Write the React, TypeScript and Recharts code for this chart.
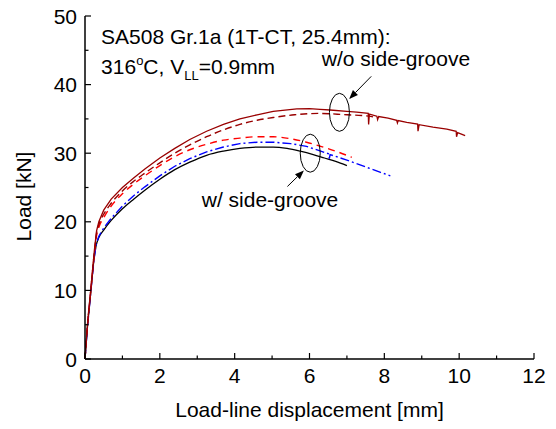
import React from "react";
import { LineChart, Line, XAxis, YAxis, ReferenceDot, ReferenceLine } from "recharts";

// load-line displacement [mm] vs load [kN]
const woSgA: [number, number][] = [
  [0, 0], [0.06, 4.6], [0.15, 9.8], [0.25, 15.8], [0.31, 18.7], [0.37, 20.0], [0.5, 21.7],
  [0.7, 23.3], [1.0, 25.0], [1.3, 26.4], [1.6, 27.7], [2.0, 29.3], [2.4, 30.7], [2.8, 32.0],
  [3.25, 33.2], [3.7, 34.2], [4.14, 35.0], [4.6, 35.6], [5.03, 36.1], [5.66, 36.45], [6.0, 36.5],
  [6.28, 36.4], [6.55, 36.3], [7.0, 36.1], [7.26, 36.0], [7.57, 35.8], [7.58, 34.2], [7.6, 35.7],
  [7.8, 35.4], [7.82, 34.9], [7.85, 35.35], [8.1, 35.1], [8.33, 34.8], [8.35, 34.4], [8.37, 34.75],
  [8.6, 34.5], [8.89, 34.25], [8.9, 33.2], [8.93, 34.15], [9.3, 33.8], [9.67, 33.5], [9.92, 33.2],
  [9.93, 32.4], [9.96, 33.0], [10.16, 32.55],
];
const woSgB: [number, number][] = [
  [0, 0], [0.06, 4.6], [0.15, 9.8], [0.25, 15.6], [0.31, 18.4], [0.37, 19.6], [0.5, 21.1],
  [0.7, 22.7], [1.0, 24.5], [1.3, 25.9], [1.6, 27.1], [2.0, 28.6], [2.4, 30.0], [2.8, 31.2],
  [3.25, 32.4], [3.7, 33.4], [4.14, 34.2], [4.6, 34.8], [5.03, 35.2], [5.6, 35.6], [6.28, 35.8],
  [7.0, 35.6], [7.4, 35.5], [7.7, 35.3],
];
const wSgA: [number, number][] = [
  [0, 0], [0.06, 4.5], [0.15, 9.7], [0.25, 15.3], [0.31, 18.0], [0.37, 19.2], [0.5, 20.6],
  [0.7, 22.3], [1.0, 24.1], [1.3, 25.5], [1.6, 26.7], [2.0, 28.2], [2.4, 29.5], [2.8, 30.5],
  [3.25, 31.3], [3.7, 31.9], [4.14, 32.2], [4.6, 32.4], [5.03, 32.4], [5.5, 32.1], [5.92, 31.6],
  [6.3, 31.0], [6.7, 30.3], [7.13, 29.4],
];
const wSgB: [number, number][] = [
  [0, 0], [0.06, 4.3], [0.15, 9.5], [0.24, 14.5], [0.3, 16.8], [0.37, 17.9], [0.5, 19.1],
  [0.7, 20.5], [1.0, 22.3], [1.3, 23.8], [1.6, 25.1], [2.0, 26.7], [2.4, 28.1], [2.8, 29.2],
  [3.25, 30.2], [3.7, 30.9], [4.14, 31.4], [4.6, 31.6], [5.03, 31.6], [5.5, 31.4], [5.92, 31.0],
  [6.3, 30.3], [6.52, 29.9], [6.53, 29.2], [6.55, 29.8], [7.0, 29.0], [7.5, 28.0], [7.9, 27.2],
  [8.16, 26.7],
];
const wSgC: [number, number][] = [
  [0, 0], [0.06, 4.3], [0.15, 9.5], [0.24, 14.5], [0.3, 16.6], [0.37, 17.7], [0.5, 18.8],
  [0.7, 20.2], [1.0, 21.9], [1.3, 23.3], [1.6, 24.6], [2.0, 26.2], [2.4, 27.6], [2.8, 28.7],
  [3.25, 29.7], [3.7, 30.3], [4.14, 30.7], [4.6, 30.9], [5.03, 30.9], [5.4, 30.7], [5.75, 30.3],
  [6.1, 29.8], [6.4, 29.3], [6.7, 28.8], [7.0, 28.2],
];

const xTicks = [0, 1, 2, 3, 4, 5, 6, 7, 8, 9, 10, 11, 12];
const yTicks = [0, 5, 10, 15, 20, 25, 30, 35, 40, 45, 50];

const FONT = "'Liberation Sans', Arial, sans-serif";
const FS = 21;

const toRows = (pts: [number, number][]) => pts.map(([d, load]) => ({ d, load }));

const BottomTick = ({ x, y, payload }: any) => {
  const major = payload.value % 2 === 0;
  return (
    <g>
      <line x1={x} x2={x} y1={y} y2={y - (major ? 6 : 3.5)} stroke="#000" strokeWidth={1.2} />
      {major && (
        <text x={x} y={y + 24} textAnchor="middle" fontSize={FS} fontFamily={FONT} fill="#000">
          {payload.value}
        </text>
      )}
    </g>
  );
};
const TopTick = ({ x, y, payload }: any) => (
  <line x1={x} x2={x} y1={y} y2={y + (payload.value % 2 === 0 ? 6 : 3.5)} stroke="#000" strokeWidth={1.2} />
);
const LeftTick = ({ x, y, payload }: any) => {
  const major = payload.value % 10 === 0;
  return (
    <g>
      <line x1={x} x2={x + (major ? 6 : 3.5)} y1={y} y2={y} stroke="#000" strokeWidth={1.2} />
      {major && (
        <text x={x - 8} y={y + 7.5} textAnchor="end" fontSize={FS} fontFamily={FONT} fill="#000">
          {payload.value}
        </text>
      )}
    </g>
  );
};
const RightTick = ({ x, y, payload }: any) => (
  <line x1={x} x2={x - (payload.value % 10 === 0 ? 6 : 3.5)} y1={y} y2={y} stroke="#000" strokeWidth={1.2} />
);

const textShape = (content: React.ReactNode) => (p: any) => (
  <text x={p.cx} y={p.cy} fontSize={FS} fontFamily={FONT} fill="#000">
    {content}
  </text>
);
const ellipseShape = (p: any) => (
  <ellipse cx={p.cx} cy={p.cy} rx={10} ry={19} fill="none" stroke="#000" strokeWidth={1} />
);
const arrowShape = (p: any) => {
  const { x1, y1, x2, y2 } = p;
  const a = Math.atan2(y2 - y1, x2 - x1);
  const L = 9;
  const W = 3.5;
  const bx = x2 - L * Math.cos(a);
  const by = y2 - L * Math.sin(a);
  const pts = `${x2},${y2} ${bx + W * Math.sin(a)},${by - W * Math.cos(a)} ${bx - W * Math.sin(a)},${by + W * Math.cos(a)}`;
  return (
    <g>
      <line x1={x1} y1={y1} x2={bx} y2={by} stroke="#000" strokeWidth={1} />
      <polygon points={pts} fill="#000" />
    </g>
  );
};

export default function App() {
  const axisLine = { stroke: "#000", strokeWidth: 1.5 };
  return (
    <div style={{ position: "absolute", left: 0, top: 0, fontFamily: FONT }}>
      <LineChart width={556} height={429} margin={{ top: 16, right: 22, bottom: 0, left: 0 }}>
        <XAxis
          xAxisId="b"
          type="number"
          dataKey="d"
          domain={[0, 12]}
          ticks={xTicks}
          interval={0}
          height={70}
          tickSize={0}
          tickMargin={0}
          tick={<BottomTick />}
          axisLine={axisLine}
          label={{
            content: (p: any) => (
              <text x={p.viewBox.x + p.viewBox.width / 2} y={417} textAnchor="middle" fontSize={FS} fontFamily={FONT} fill="#000">
                Load-line displacement [mm]
              </text>
            ),
          }}
        />
        <XAxis
          xAxisId="t"
          orientation="top"
          type="number"
          dataKey="d"
          domain={[0, 12]}
          ticks={xTicks}
          interval={0}
          height={0}
          tickSize={0}
          tickMargin={0}
          tick={<TopTick />}
          axisLine={axisLine}
        />
        <YAxis
          yAxisId="l"
          type="number"
          domain={[0, 50]}
          ticks={yTicks}
          interval={0}
          width={85}
          tickSize={0}
          tickMargin={0}
          tick={<LeftTick />}
          axisLine={axisLine}
          label={{
            content: (p: any) => {
              const cy = p.viewBox.y + p.viewBox.height / 2 + 9;
              return (
                <text x={31} y={cy} transform={`rotate(-90, 31, ${cy})`} textAnchor="middle" fontSize={FS} fontFamily={FONT} fill="#000">
                  Load [kN]
                </text>
              );
            },
          }}
        />
        <YAxis
          yAxisId="r"
          orientation="right"
          type="number"
          domain={[0, 50]}
          ticks={yTicks}
          interval={0}
          width={0}
          tickSize={0}
          tickMargin={0}
          tick={<RightTick />}
          axisLine={axisLine}
        />

        <Line xAxisId="b" yAxisId="l" type="monotone" data={toRows(wSgC)} dataKey="load" stroke="#000" strokeWidth={1.3} dot={false} activeDot={false} isAnimationActive={false} />
        <Line xAxisId="b" yAxisId="l" data={toRows(wSgB)} dataKey="load" stroke="#0000ff" strokeWidth={1.4} strokeDasharray="9 3 2 3" dot={false} activeDot={false} isAnimationActive={false} />
        <Line xAxisId="b" yAxisId="l" type="monotone" data={toRows(wSgA)} dataKey="load" stroke="#ff0000" strokeWidth={1.4} strokeDasharray="7 5" dot={false} activeDot={false} isAnimationActive={false} />
        <Line xAxisId="b" yAxisId="l" type="monotone" data={toRows(woSgB)} dataKey="load" stroke="#990000" strokeWidth={1.4} strokeDasharray="7 4" dot={false} activeDot={false} isAnimationActive={false} />
        <Line xAxisId="b" yAxisId="l" data={toRows(woSgA)} dataKey="load" stroke="#990000" strokeWidth={1.3} dot={false} activeDot={false} isAnimationActive={false} />

        <ReferenceDot xAxisId="b" yAxisId="l" x={6.8} y={35.96} shape={ellipseShape} />
        <ReferenceDot xAxisId="b" yAxisId="l" x={6.02} y={30.0} shape={ellipseShape} />
        <ReferenceLine xAxisId="b" yAxisId="l" segment={[{ x: 7.65, y: 41.2 }, { x: 7.06, y: 37.9 }]} shape={arrowShape} />
        <ReferenceLine xAxisId="b" yAxisId="l" segment={[{ x: 5.41, y: 25.15 }, { x: 5.85, y: 27.49 }]} shape={arrowShape} />

        <ReferenceDot xAxisId="b" yAxisId="l" x={0.43} y={45.9} shape={textShape("SA508 Gr.1a (1T-CT, 25.4mm):")} />
        <ReferenceDot
          xAxisId="b"
          yAxisId="l"
          x={0.43}
          y={41.6}
          shape={textShape(
            <>
              316<tspan fontSize={13} dy={-9}>o</tspan>
              <tspan dy={9}>C, V</tspan>
              <tspan fontSize={13} dy={6}>LL</tspan>
              <tspan dy={-6}>=0.9mm</tspan>
            </>
          )}
        />
        <ReferenceDot xAxisId="b" yAxisId="l" x={6.33} y={42.67} shape={textShape("w/o side-groove")} />
        <ReferenceDot xAxisId="b" yAxisId="l" x={3.12} y={22.15} shape={textShape("w/ side-groove")} />
      </LineChart>
    </div>
  );
}
